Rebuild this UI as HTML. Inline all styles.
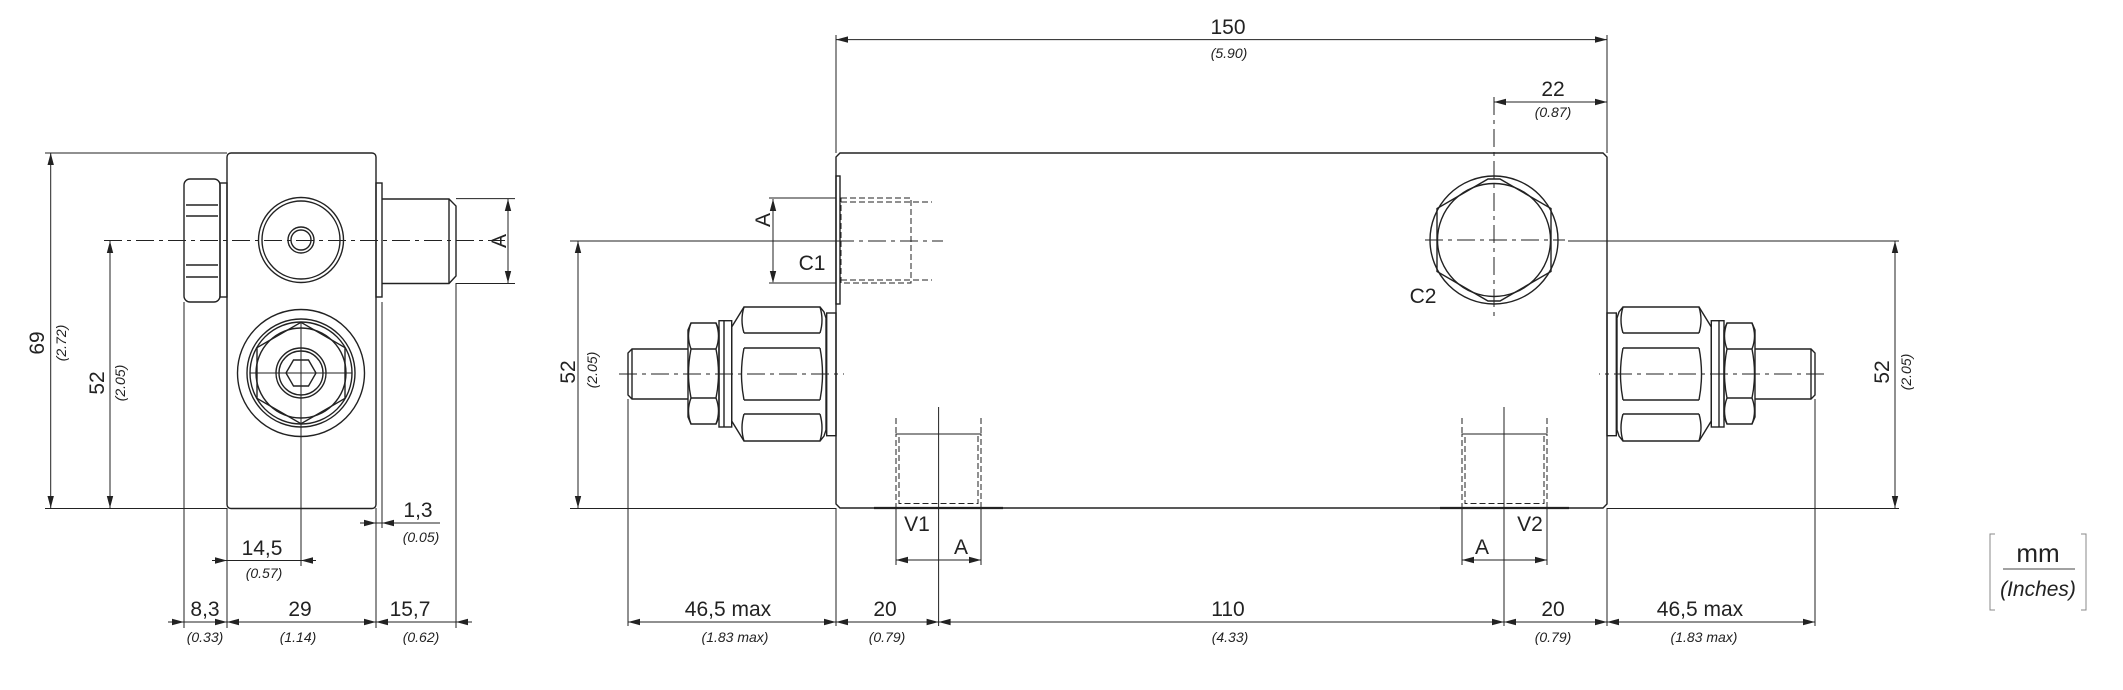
<!DOCTYPE html>
<html><head><meta charset="utf-8"><style>
html,body{margin:0;padding:0;background:#fff;}
svg{display:block;}
text{font-family:"Liberation Sans","DejaVu Sans",sans-serif;fill:#222;}
.m{font-size:21px;}
.i{font-size:14px;font-style:italic;}
</style></head><body>
<svg width="2123" height="690" viewBox="0 0 2123 690" xmlns="http://www.w3.org/2000/svg">
<defs>
<clipPath id="cc"><circle cx="301" cy="373" r="63.5"/></clipPath>
<clipPath id="oc"><polygon points="273.2,306 328.8,306 368,345.2 368,400.8 328.8,440 273.2,440 234,400.8 234,345.2"/></clipPath>
<g id="fit" fill="none" stroke="#222" stroke-width="1.4">
<rect x="826.7" y="313" width="9.3" height="122.7"/>
<path d="M744,307 L820,307 L824,312 L826,318 L826,430 L824,436 L820,441 L744,441 L731.7,421 L731.7,327 Z"/>
<path d="M744,307 Q740,320 744,333 M744,348 Q739,374 744,400 M744,414 Q740,428 744,441"/>
<path d="M820,307 Q824,320 820,333 M820,348 Q825,374 820,400 M820,414 Q824,428 820,441"/>
<line x1="744" y1="333" x2="820" y2="333"/><line x1="744" y1="348" x2="820" y2="348"/>
<line x1="744" y1="400" x2="820" y2="400"/><line x1="744" y1="414" x2="820" y2="414"/>
<rect x="719" y="320.7" width="12.7" height="106.3"/>
<line x1="724" y1="320.7" x2="724" y2="427"/>
<path d="M691,323 L716,323 L719,330 L719,417 L716,424 L691,424 L688,417 L688,330 Z"/>
<path d="M691,323 Q686,336 691,349 M691,398 Q686,411 691,424 M716,323 Q721,336 716,349 M716,398 Q721,411 716,424 M691,349 Q686,374 691,398 M716,349 Q721,374 716,398"/>
<line x1="691" y1="349" x2="716" y2="349"/><line x1="691" y1="398" x2="716" y2="398"/>
<path d="M688,349 L632,349 L628,353 L628,395 L632,399 L688,399"/>
<line x1="632" y1="349" x2="632" y2="399"/>
<line x1="619" y1="374" x2="844" y2="374" stroke-width="1" stroke-dasharray="18,5,4,5"/>
</g>
</defs>

<g fill="none" stroke="#222" stroke-width="1.4">
<!-- SIDE VIEW -->
<rect x="227" y="153" width="149" height="355.5" rx="4"/>
<rect x="220" y="183" width="7" height="114"/>
<rect x="184" y="179" width="36" height="123" rx="6"/>
<line x1="186" y1="205" x2="218" y2="205"/><line x1="186" y1="216" x2="218" y2="216"/>
<line x1="186" y1="265" x2="218" y2="265"/><line x1="186" y1="277" x2="218" y2="277"/>
<rect x="376" y="183" width="6" height="114"/>
<path d="M382,199 L449,199 L456,206 L456,276 L449,283.5 L382,283.5"/>
<line x1="449" y1="199" x2="449" y2="283.5"/>
<circle cx="301" cy="240" r="42.5"/><circle cx="301" cy="240" r="39"/>
<circle cx="301" cy="240" r="13"/><circle cx="301" cy="240" r="10"/>
<polygon points="273.2,306 328.8,306 368,345.2 368,400.8 328.8,440 273.2,440 234,400.8 234,345.2" clip-path="url(#cc)"/>
<circle cx="301" cy="373" r="63.5" clip-path="url(#oc)"/>
<circle cx="301" cy="373" r="54"/><circle cx="301" cy="373" r="51"/>
<polygon points="301,322.3 345,347.7 345,398.3 301,423.7 257,398.3 257,347.7"/>
<circle cx="301" cy="373" r="45"/>
<circle cx="301" cy="373" r="25"/><circle cx="301" cy="373" r="22"/>
<polygon points="286,373 293.5,360 308.5,360 316,373 308.5,386 293.5,386"/>
</g>
<g fill="none" stroke="#222" stroke-width="1">
<line x1="104" y1="240.5" x2="505" y2="240.5" stroke-dasharray="18,5,4,5"/>
<line x1="250" y1="373" x2="352" y2="373"/>
<line x1="301" y1="322" x2="301" y2="566"/>
<!-- ext lines side -->
<line x1="45" y1="153" x2="227" y2="153"/><line x1="45" y1="508.5" x2="227" y2="508.5"/>
<line x1="184" y1="302" x2="184" y2="628"/><line x1="227" y1="508" x2="227" y2="628"/>
<line x1="376" y1="508" x2="376" y2="628"/><line x1="382" y1="302" x2="382" y2="528"/>
<line x1="456" y1="283" x2="456" y2="628"/>
<line x1="456" y1="198.6" x2="515" y2="198.6"/><line x1="456" y1="283.5" x2="515" y2="283.5"/>
<!-- dims side -->
<line x1="50.7" y1="153" x2="50.7" y2="508"/>
<line x1="110" y1="241" x2="110" y2="508"/>
<line x1="508" y1="199" x2="508" y2="283"/>
<line x1="212" y1="560.5" x2="316" y2="560.5"/>
<line x1="360" y1="523" x2="440" y2="523"/>
<line x1="168" y1="622" x2="472" y2="622"/>

<!-- MAIN VIEW -->
<path d="M840,153 L1603,153 L1607,157 L1607,504 L1603,508 L840,508 L836,504 L836,157 Z" stroke-width="1.4"/>
<rect x="836" y="176" width="4" height="128" stroke-width="1.4"/>
<rect x="841" y="198" width="70" height="85" stroke-dasharray="6,3"/>
<line x1="841" y1="202" x2="932" y2="202" stroke-dasharray="6,3"/>
<line x1="841" y1="280" x2="932" y2="280" stroke-dasharray="6,3"/>
<line x1="769" y1="198" x2="836" y2="198"/><line x1="769" y1="283" x2="836" y2="283"/>
<line x1="773" y1="199" x2="773" y2="282"/>
<line x1="570" y1="241" x2="836" y2="241"/>
<line x1="836" y1="241" x2="943" y2="241" stroke-dasharray="18,5,4,5"/>
<line x1="570" y1="508.5" x2="836" y2="508.5"/>
<line x1="578" y1="241" x2="578" y2="508"/>
<!-- 150 -->
<line x1="836" y1="35" x2="836" y2="153"/><line x1="1607" y1="35" x2="1607" y2="153"/>
<line x1="836" y1="39.6" x2="1607" y2="39.6"/>
<!-- 22 -->
<line x1="1494" y1="97" x2="1494" y2="320" stroke-dasharray="18,5,4,5"/>
<line x1="1494" y1="102" x2="1607" y2="102"/>
<!-- C2 -->
<circle cx="1494" cy="240" r="64" stroke-width="1.4"/>
<polygon points="1488,179 1500,179 1551,208.5 1551,271.5 1500,301 1488,301 1437,271.5 1437,208.5" stroke-width="1.4"/>
<circle cx="1494" cy="240" r="56.5" stroke-width="1.4"/>
<line x1="1425" y1="240" x2="1565" y2="240" stroke-dasharray="18,5,4,5"/>
<line x1="1568" y1="241" x2="1899" y2="241"/>
<line x1="1607" y1="508.5" x2="1899" y2="508.5"/>
<line x1="1895" y1="241" x2="1895" y2="508"/>
<!-- V1 -->
<rect x="896" y="434" width="85" height="74" stroke-dasharray="6,3"/>
<rect x="899" y="434" width="79" height="69.5" stroke-dasharray="6,3"/>
<line x1="896" y1="418" x2="896" y2="434" stroke-dasharray="6,3"/><line x1="981" y1="418" x2="981" y2="434" stroke-dasharray="6,3"/>
<line x1="938.6" y1="407" x2="938.6" y2="626"/>
<line x1="874" y1="508" x2="1003" y2="508" stroke-width="2.2"/>
<line x1="896" y1="508" x2="896" y2="565"/><line x1="981" y1="508" x2="981" y2="565"/>
<line x1="896" y1="560" x2="981" y2="560"/>
<!-- V2 -->
<rect x="1462" y="434" width="85" height="74" stroke-dasharray="6,3"/>
<rect x="1465" y="434" width="79" height="69.5" stroke-dasharray="6,3"/>
<line x1="1462" y1="418" x2="1462" y2="434" stroke-dasharray="6,3"/><line x1="1547" y1="418" x2="1547" y2="434" stroke-dasharray="6,3"/>
<line x1="1504" y1="407" x2="1504" y2="626"/>
<line x1="1440" y1="508" x2="1569" y2="508" stroke-width="2.2"/>
<line x1="1462" y1="508" x2="1462" y2="565"/><line x1="1547" y1="508" x2="1547" y2="565"/>
<line x1="1462" y1="560" x2="1547" y2="560"/>
<!-- bottom chain -->
<line x1="628" y1="399" x2="628" y2="626"/><line x1="1815" y1="399" x2="1815" y2="626"/>
<line x1="836" y1="508" x2="836" y2="626"/><line x1="1607" y1="508" x2="1607" y2="626"/>
<line x1="628" y1="622" x2="1815" y2="622"/>
<!-- mm box -->
<path d="M1995,534 L1990,534 L1990,610 L1995,610 M2081,534 L2086,534 L2086,610 L2081,610" stroke="#888"/>
<line x1="2003" y1="569" x2="2075" y2="569" stroke="#444"/>
</g>
<use href="#fit"/>
<use href="#fit" transform="translate(2443,0) scale(-1,1)"/>

<g fill="#222">
<!-- vertical arrows -->
<polygon points="50.7,153 47.5,165 53.9,165"/><polygon points="50.7,508 47.5,496 53.9,496"/>
<polygon points="110,241 106.8,253 113.2,253"/><polygon points="110,508 106.8,496 113.2,496"/>
<polygon points="508,199 504.8,211 511.2,211"/><polygon points="508,283 504.8,271 511.2,271"/>
<polygon points="773,199 769.8,211 776.2,211"/><polygon points="773,283 769.8,271 776.2,271"/>
<polygon points="578,241 574.8,253 581.2,253"/><polygon points="578,508 574.8,496 581.2,496"/>
<polygon points="1895,241 1891.8,253 1898.2,253"/><polygon points="1895,508 1891.8,496 1898.2,496"/>
<!-- horizontal arrows -->
<polygon points="227,560.5 215,557.3 215,563.7"/><polygon points="301,560.5 313,557.3 313,563.7"/>
<polygon points="376,523 364,519.8 364,526.2"/><polygon points="382,523 394,519.8 394,526.2"/>
<polygon points="184,622 172,618.8 172,625.2"/><polygon points="227,622 239,618.8 239,625.2"/>
<polygon points="227,622 215,618.8 215,625.2"/>
<polygon points="376,622 364,618.8 364,625.2"/><polygon points="376,622 388,618.8 388,625.2"/>
<polygon points="456,622 468,618.8 468,625.2"/>
<polygon points="836,39.6 848,36.4 848,42.8"/><polygon points="1607,39.6 1595,36.4 1595,42.8"/>
<polygon points="1494,102 1506,98.8 1506,105.2"/><polygon points="1607,102 1595,98.8 1595,105.2"/>
<polygon points="896,560 908,556.8 908,563.2"/><polygon points="981,560 969,556.8 969,563.2"/>
<polygon points="1462,560 1474,556.8 1474,563.2"/><polygon points="1547,560 1535,556.8 1535,563.2"/>
<polygon points="628,622 640,618.8 640,625.2"/><polygon points="836,622 824,618.8 824,625.2"/>
<polygon points="836,622 848,618.8 848,625.2"/><polygon points="938.6,622 926.6,618.8 926.6,625.2"/>
<polygon points="938.6,622 950.6,618.8 950.6,625.2"/><polygon points="1504,622 1492,618.8 1492,625.2"/>
<polygon points="1504,622 1516,618.8 1516,625.2"/><polygon points="1607,622 1595,618.8 1595,625.2"/>
<polygon points="1607,622 1619,618.8 1619,625.2"/><polygon points="1815,622 1803,618.8 1803,625.2"/>
</g>

<!-- TEXT -->
<text class="m" text-anchor="middle" transform="translate(44,343) rotate(-90)">69</text>
<text class="i" text-anchor="middle" transform="translate(66,343) rotate(-90)">(2.72)</text>
<text class="m" text-anchor="middle" transform="translate(104,383) rotate(-90)">52</text>
<text class="i" text-anchor="middle" transform="translate(125,383) rotate(-90)">(2.05)</text>
<text class="m" text-anchor="middle" transform="translate(506,241) rotate(-90)">A</text>
<text class="m" text-anchor="middle" x="262" y="555">14,5</text>
<text class="i" text-anchor="middle" x="264" y="578">(0.57)</text>
<text class="m" text-anchor="middle" x="418" y="517">1,3</text>
<text class="i" text-anchor="middle" x="421" y="542">(0.05)</text>
<text class="m" text-anchor="middle" x="205" y="616">8,3</text>
<text class="i" text-anchor="middle" x="205" y="642">(0.33)</text>
<text class="m" text-anchor="middle" x="300" y="616">29</text>
<text class="i" text-anchor="middle" x="298" y="642">(1.14)</text>
<text class="m" text-anchor="middle" x="410" y="616">15,7</text>
<text class="i" text-anchor="middle" x="421" y="642">(0.62)</text>

<text class="m" text-anchor="middle" x="1228" y="34">150</text>
<text class="i" text-anchor="middle" x="1229" y="58">(5.90)</text>
<text class="m" text-anchor="middle" x="1553" y="96">22</text>
<text class="i" text-anchor="middle" x="1553" y="117">(0.87)</text>
<text class="m" text-anchor="middle" x="1423" y="303">C2</text>
<text class="m" text-anchor="middle" transform="translate(770,220) rotate(-90)">A</text>
<text class="m" text-anchor="middle" x="812" y="270">C1</text>
<text class="m" text-anchor="middle" transform="translate(575,372) rotate(-90)">52</text>
<text class="i" text-anchor="middle" transform="translate(597,370) rotate(-90)">(2.05)</text>
<text class="m" text-anchor="middle" transform="translate(1889,372) rotate(-90)">52</text>
<text class="i" text-anchor="middle" transform="translate(1911,372) rotate(-90)">(2.05)</text>
<text class="m" text-anchor="middle" x="917" y="531">V1</text>
<text class="m" text-anchor="middle" x="961" y="554">A</text>
<text class="m" text-anchor="middle" x="1530" y="531">V2</text>
<text class="m" text-anchor="middle" x="1482" y="554">A</text>
<text class="m" text-anchor="middle" x="728" y="616">46,5 max</text>
<text class="i" text-anchor="middle" x="735" y="642">(1.83 max)</text>
<text class="m" text-anchor="middle" x="885" y="616">20</text>
<text class="i" text-anchor="middle" x="887" y="642">(0.79)</text>
<text class="m" text-anchor="middle" x="1228" y="616">110</text>
<text class="i" text-anchor="middle" x="1230" y="642">(4.33)</text>
<text class="m" text-anchor="middle" x="1553" y="616">20</text>
<text class="i" text-anchor="middle" x="1553" y="642">(0.79)</text>
<text class="m" text-anchor="middle" x="1700" y="616">46,5 max</text>
<text class="i" text-anchor="middle" x="1704" y="642">(1.83 max)</text>
<text text-anchor="middle" x="2038" y="562" style="font-size:26px">mm</text>
<text text-anchor="middle" x="2038" y="596" style="font-size:21px;font-style:italic">(Inches)</text>
</svg>
</body></html>
